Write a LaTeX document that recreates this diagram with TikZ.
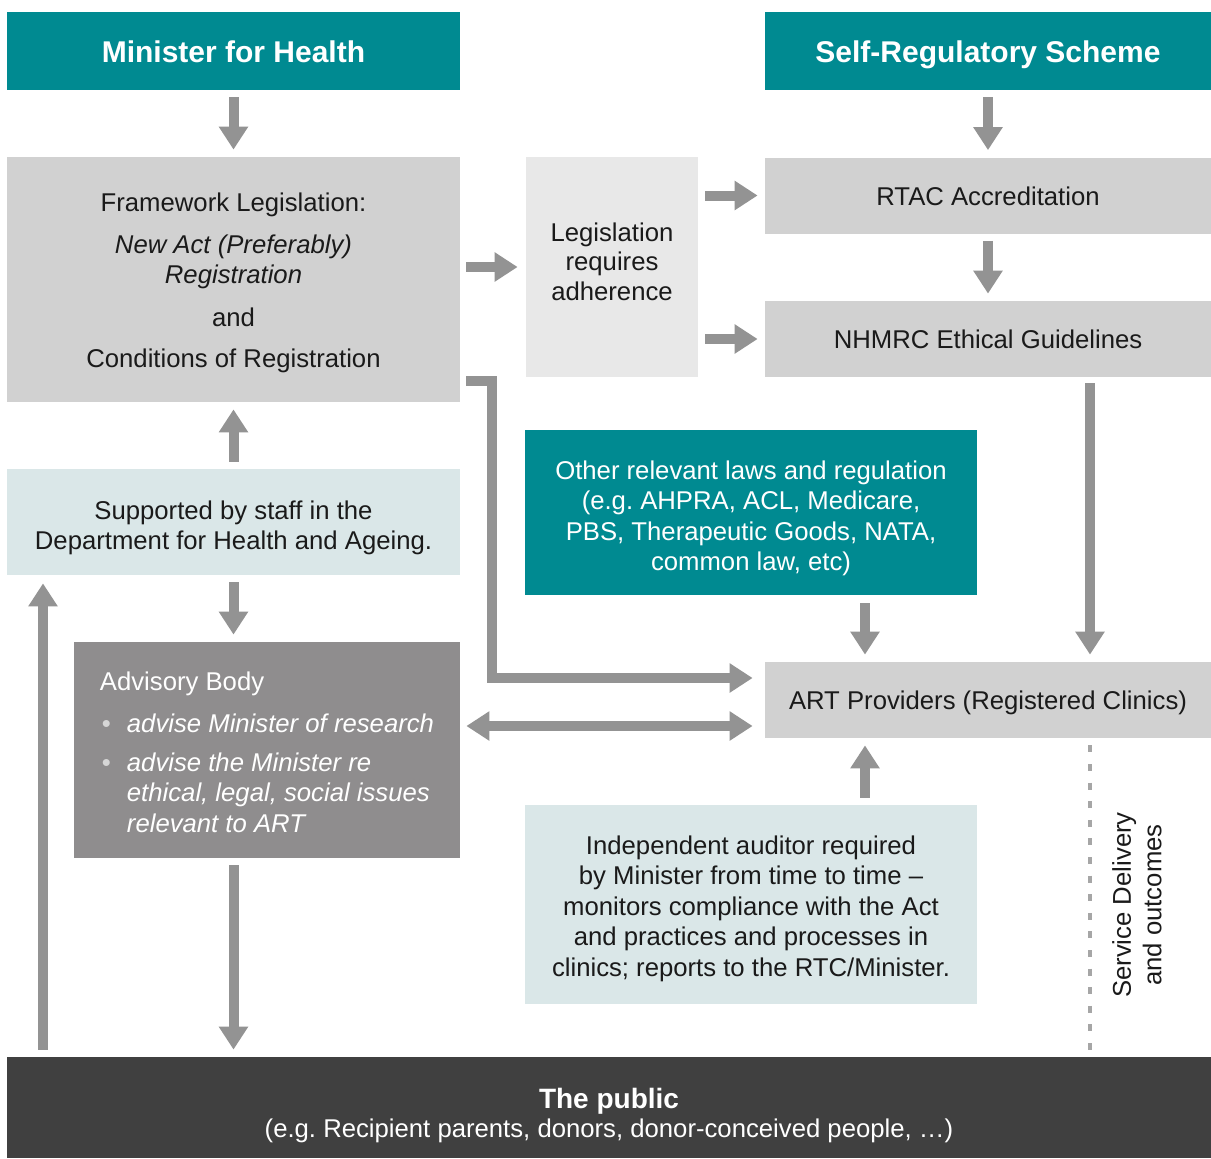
\documentclass[tikz,border=0pt]{standalone}
\usepackage{fontspec}
\setmainfont{Liberation Sans}
\frenchspacing
\usetikzlibrary{arrows.meta,positioning}
\definecolor{regteal}{HTML}{008A91}
\definecolor{boxgrey}{HTML}{D1D1D1}
\definecolor{palegrey}{HTML}{E8E8E8}
\definecolor{paleblue}{HTML}{DAE7E8}
\definecolor{advgrey}{HTML}{8F8D8E}
\definecolor{publicgrey}{HTML}{404040}
\definecolor{arrowgrey}{HTML}{939393}
\definecolor{dotgrey}{HTML}{A6A6A6}
\definecolor{textdark}{HTML}{1A1A1A}
\definecolor{bulletgrey}{HTML}{D6D6D6}
% invisible struts to nudge text blocks
\newcommand{\pushdown}[1]{\rule{0pt}{#1}}
\newcommand{\pushup}[1]{\rule[-#1]{0pt}{#1}}
\begin{document}
\begin{tikzpicture}[x=0.5pt,y=-0.5pt]

    \tikzset{
      box/.style={
        inner sep=0pt,
        align=center,
        text=textdark,
        font=\fontsize{12.85}{15.25}\selectfont,
      },
      single/.style={
        box,
        fill=boxgrey,
        minimum width=223pt,
        minimum height=38pt,
        text height=9.6pt,
        text depth=0pt,
      },
      head/.style={
        box,
        fill=regteal,
        text=white,
        font=\fontsize{15}{18}\selectfont\bfseries,
        minimum height=39pt,
        text height=11pt,
        text depth=0pt,
      },
      arr/.style={
        draw=arrowgrey,
        line width=5pt,
        >={Triangle[width=14pt,length=11.5pt]},
        ->,
        shorten <=3.5pt,
        shorten >=3.5pt,
      },
      dotline/.style={
        draw=dotgrey,
        line width=2pt,
        dash pattern=on 3.5pt off 5.8pt,
      },
    }
    \useasboundingbox[fill=white] (0,0) rectangle (1211,1158);

	% top row
	\node[head, minimum width=226.5pt] (minister) at (233.5,51) {Minister for Health};
	\node[head, minimum width=223pt] (selfreg) at (988,51) {Self-Regulatory Scheme};

	% legislation side
	\node[box, fill=boxgrey, minimum width=226.5pt, minimum height=122.5pt] (framework) at (233.5,279.5)
	  {\pushdown{13pt}Framework Legislation:\\[5.5pt]
	   \textit{New Act (Preferably)}\\
	   \textit{Registration}\\[6pt]
	   and\\[5.5pt]
	   Conditions of Registration};
	\node[box, fill=palegrey, minimum width=86pt, minimum height=110pt] (legis) at (612,267)
	  {Legislation\\[-0.6pt]requires\\[-0.6pt]adherence\pushup{5.5pt}};
	\node[single] (rtac) at (988,195.5) {RTAC Accreditation};
	\node[single] (nhmrc) at (988,339) {NHMRC Ethical Guidelines};

	\node[box, fill=regteal, text=white, minimum width=226pt, minimum height=82.5pt] (other) at (751,512.5)
	  {\pushdown{15pt}Other relevant laws and regulation\\
	   (e.g. AHPRA, ACL, Medicare,\\
	   PBS, Therapeutic Goods, NATA,\\
	   common law, etc)};
	\node[single] (art) at (988,700) {ART Providers (Registered Clinics)};
	\node[box, fill=paleblue, minimum width=226pt, minimum height=99.5pt] (auditor) at (751,904.5)
	  {\pushdown{13.4pt}Independent auditor required\\
	   by Minister from time to time --\\
	   monitors compliance with the Act\\
	   and practices and processes in\\
	   clinics; reports to the RTC/Minister.};

	% department side
	\node[box, fill=paleblue, minimum width=226.5pt, minimum height=53pt] (support) at (233.5,522)
	  {\pushdown{15pt}Supported by staff in the\\Department for Health and Ageing.};
	\node[box, fill=advgrey, text=white, align=left, minimum width=193pt, minimum height=108pt] (advisory) at (267,750)
	  {\pushdown{11.5pt}Advisory Body\\[6pt]
	   \hspace*{1pt}\makebox[12.5pt][l]{\color{bulletgrey}\textbullet}\textit{advise Minister of research}\\[4pt]
	   \hspace*{1pt}\makebox[12.5pt][l]{\color{bulletgrey}\textbullet}\textit{advise the Minister re}\\
	   \hspace*{13.5pt}\textit{ethical, legal, social issues}\\
	   \hspace*{13.5pt}\textit{relevant to ART}};

	\node[box, fill=publicgrey, text=white, minimum width=602pt, minimum height=50.5pt] (public) at (609,1107.5)
	  {{\fontsize{14}{15.5}\selectfont\bfseries\pushdown{18pt}The public}\\[-0.5pt]
	   (e.g. Recipient parents, donors, donor-conceived people, …)};

	\node[box, rotate=90] (service) at (1137,905) {Service Delivery\\and outcomes};

	% arrows
	\draw[arr] (minister.south) -- (framework.north);
	\draw[arr] (selfreg.south) -- (rtac.north);
	\draw[arr, shorten <=3pt, shorten >=4pt] (framework.east |- legis.west) -- (legis.west);
	\draw[arr] (legis.east |- rtac.west) -- (rtac.west);
	\draw[arr] (legis.east |- nhmrc.west) -- (nhmrc.west);
	\draw[arr] (rtac.south) -- (nhmrc.north);
	\draw[arr, shorten <=3pt] (nhmrc.south -| 1090,0) -- (art.north -| 1090,0);
	\draw[arr, shorten <=4pt] (other.south -| 865,0) -- (art.north -| 865,0);
	\draw[arr] (auditor.north -| 865,0) -- (art.south -| 865,0);
	\draw[arr, shorten <=3pt, shorten >=6pt] ([yshift=10.5pt]framework.south east) -- ++(32,0) |- ([yshift=11pt]art.west);
	\coordinate (dbl) at ([yshift=12pt]advisory.east);
	\draw[arr, <->, shorten <=3pt, shorten >=6pt] (dbl) -- (dbl -| art.west);
	\draw[arr] (support.north) -- (framework.south);
	\draw[arr] (support.south) -- (support.south |- advisory.north);
	\draw[arr] (advisory.south -| support.south) -- (public.north -| support.south);
	\draw[arr, shorten >=4pt] (public.north -| 43,0) -- (support.south -| 43,0);
	\draw[dotline, shorten <=3.5pt, shorten >=3.5pt] (art.south -| 1090,0) -- (public.north -| 1090,0);

\end{tikzpicture}
\end{document}
